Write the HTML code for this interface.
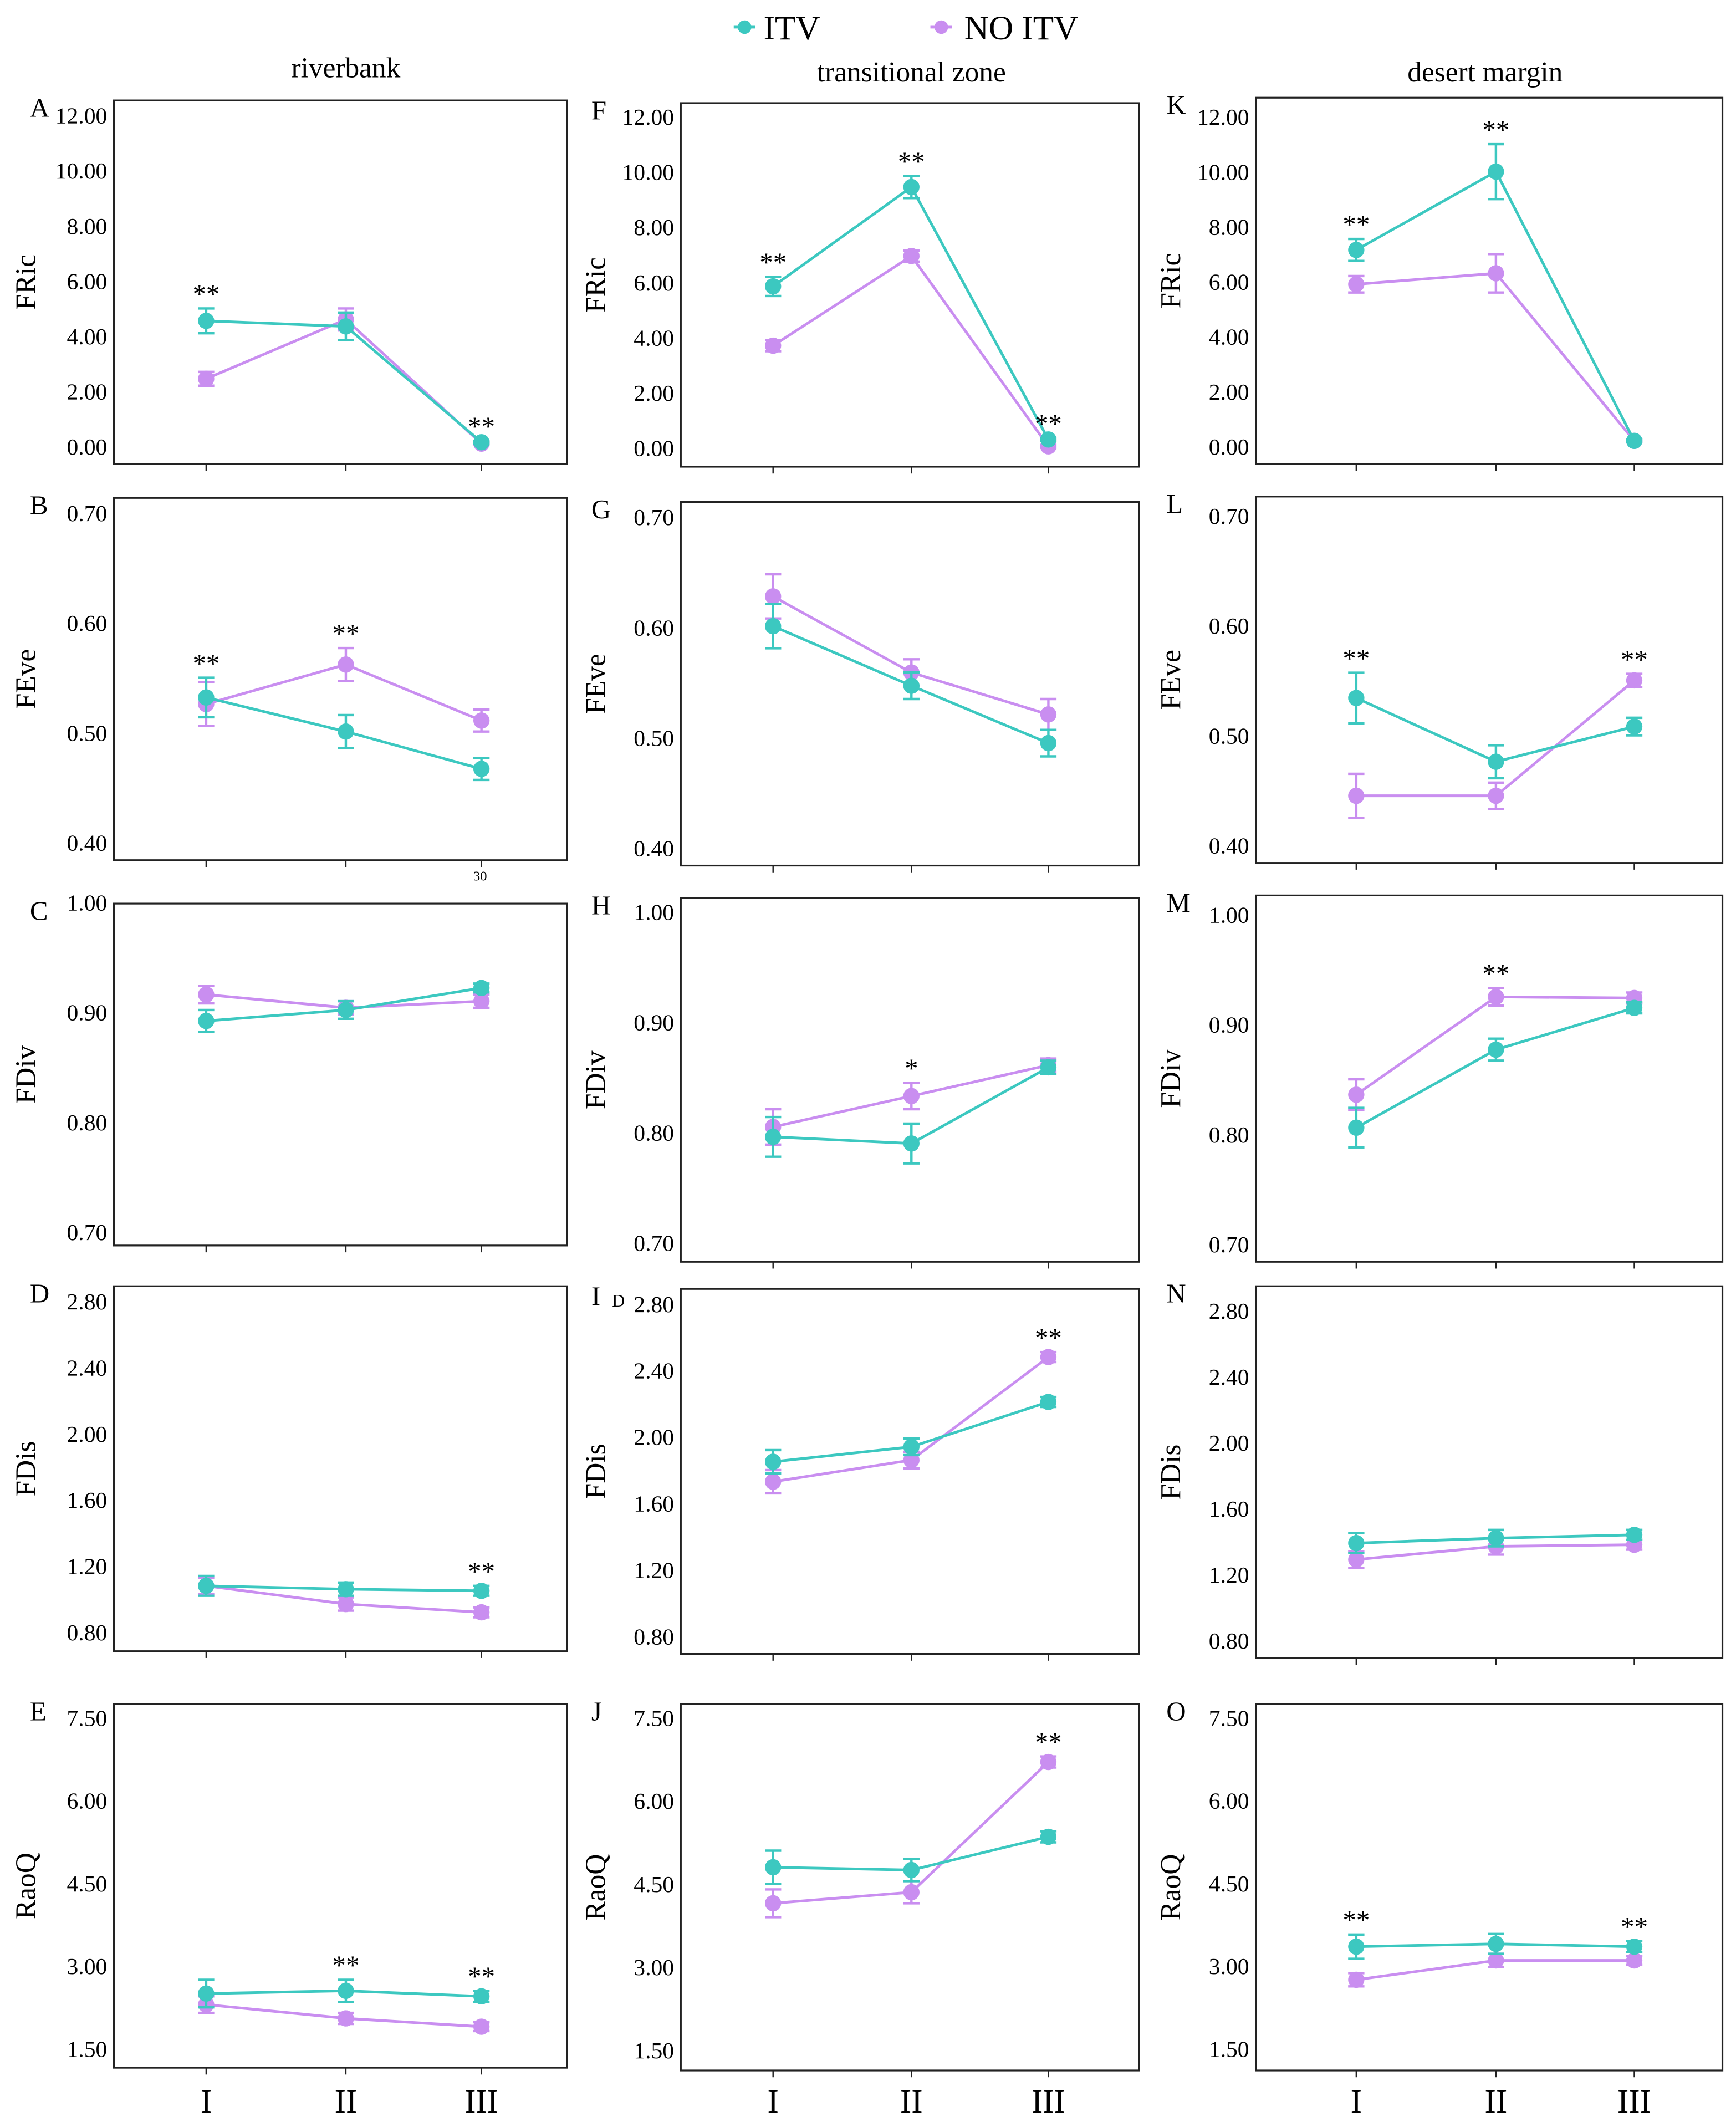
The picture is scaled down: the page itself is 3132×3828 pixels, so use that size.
<!DOCTYPE html>
<html><head><meta charset="utf-8"><style>
html,body{margin:0;padding:0;background:#fff}
svg{display:block;font-family:"Liberation Serif",serif}
</style></head><body>
<svg id="chart" width="3132" height="3828" viewBox="0 0 1280 1564" preserveAspectRatio="none" xmlns="http://www.w3.org/2000/svg">
<rect width="1280" height="1564" fill="#fff"/>
<g>
 <g><line x1="541" y1="20" x2="557" y2="20" stroke="#3cc8c0" stroke-width="2"/><circle cx="549" cy="20" r="5" fill="#3cc8c0"/><text x="563" y="29" font-size="25">ITV</text></g>
 <g><line x1="686" y1="20" x2="702" y2="20" stroke="#c98ef0" stroke-width="2"/><circle cx="694" cy="20" r="5" fill="#c98ef0"/><text x="711" y="29" font-size="25">NO ITV</text></g>
</g>
<text x="255" y="57" font-size="21" text-anchor="middle">riverbank</text>
<text x="672" y="60" font-size="21" text-anchor="middle">transitional zone</text>
<text x="1095" y="60" font-size="21" text-anchor="middle">desert margin</text>
<text x="354" y="649" font-size="10" text-anchor="middle">30</text>
<text x="456" y="963" font-size="13" text-anchor="middle">D</text>
<g id="panels"></g>
</svg>
<script>
const categories = ["I","II","III"];
const panelIds = ["A","B","C","D","E","F","G","H","I","J","K","L","M","N","O"];
const metrics = ["FRic","FEve","FDiv","FDis","RaoQ"];
const tickLabels = [
 ["0.00","2.00","4.00","6.00","8.00","10.00","12.00"],
 ["0.40","0.50","0.60","0.70"],
 ["0.70","0.80","0.90","1.00"],
 ["0.80","1.20","1.60","2.00","2.40","2.80"],
 ["1.50","3.00","4.50","6.00","7.50"]
];
const itvValues = [
 [4.55,4.35,0.15],[0.532,0.501,0.467],[0.892,0.902,0.922],[1.08,1.06,1.05],[2.5,2.55,2.45],
 [5.85,9.45,0.3],[0.601,0.547,0.495],[0.796,0.790,0.859],[1.85,1.94,2.21],[4.8,4.75,5.35],
 [7.15,10.0,0.2],[0.534,0.476,0.508],[0.806,0.877,0.915],[1.39,1.42,1.44],[3.35,3.4,3.35]
];
const itvErrors = [
 [0.45,0.5,0.05],[0.018,0.015,0.01],[0.01,0.008,0.004],[0.06,0.04,0.03],[0.25,0.2,0.1],
 [0.35,0.4,0.05],[0.02,0.012,0.012],[0.018,0.018,0.006],[0.07,0.05,0.03],[0.3,0.2,0.1],
 [0.4,1.0,0.05],[0.023,0.015,0.008],[0.018,0.01,0.005],[0.06,0.05,0.03],[0.22,0.18,0.1]
];
const noItvValues = [
 [2.45,4.6,0.1],[0.526,0.562,0.511],[0.916,0.904,0.910],[1.08,0.97,0.92],[2.3,2.05,1.9],
 [3.7,6.95,0.05],[0.628,0.559,0.521],[0.805,0.833,0.861],[1.73,1.86,2.48],[4.15,4.35,6.7],
 [5.9,6.3,0.2],[0.445,0.445,0.550],[0.836,0.925,0.924],[1.29,1.37,1.38],[2.75,3.1,3.1]
];
const noItvErrors = [
 [0.25,0.4,0.05],[0.02,0.015,0.01],[0.008,0.006,0.006],[0.05,0.04,0.03],[0.15,0.1,0.08],
 [0.2,0.2,0.05],[0.02,0.012,0.014],[0.016,0.012,0.006],[0.07,0.05,0.03],[0.25,0.2,0.1],
 [0.3,0.7,0.05],[0.02,0.012,0.006],[0.014,0.008,0.005],[0.05,0.05,0.03],[0.12,0.12,0.08]
];
const significance = [
 ["**","","**"],["**","**",""],["","",""],["","","**"],["","**","**"],
 ["**","**","**"],["","",""],["","*",""],["","","**"],["","","**"],
 ["**","**",""],["**","","**"],["","**",""],["","",""],["**","","**"]
];
// layout (not data)
const colBox = [[84,418],[502,840],[926,1270]];
const colX = [[152,255,355],[570,672,773],[1000,1103,1205]];
const rowBox = [[[74,342],[367,634],[666,918],[948,1217],[1256,1524]],
 [[76,344],[370,638],[662,930],[950,1219],[1256,1526]],
 [[72,342],[366,636],[660,930],[948,1222],[1256,1526]]];
const tickPix = [[[329,85],[621,378],[908,665],[1203,959],[1510,1266]],
 [[330,86],[625,381],[916,672],[1206,961],[1511,1266]],
 [[329,86],[623,380],[917,674],[1209,966],[1510,1266]]];
const NS="http://www.w3.org/2000/svg";
const root=document.getElementById("panels");
function mk(tag,attrs,parent){const e=document.createElementNS(NS,tag);for(const k in attrs)e.setAttribute(k,attrs[k]);parent.appendChild(e);return e;}
const ITV="#3cc8c0", NO="#c98ef0";
for(let c=0;c<3;c++){for(let r=0;r<5;r++){
 const idx=c*5+r;
 const g=mk("g",{},root);
 
 
 const [x0,x1]=colBox[c],[y0,y1]=rowBox[c][r];
 const labs=tickLabels[r];
 const vmin=parseFloat(labs[0]),vmax=parseFloat(labs[labs.length-1]);
 const [p0,p1]=tickPix[c][r];
 const yS=v=>p0+(v-vmin)/(vmax-vmin)*(p1-p0);
 const xS=i=>colX[c][i];
 const box=mk("rect",{x:x0,y:y0,width:x1-x0,height:y1-y0,fill:"none",stroke:"#222","stroke-width":1.3},g);
 
 
 const pl=mk("text",{x:x0-(c==0?62:66),y:y0+12,"font-size":20},g);
 pl.textContent=panelIds[idx];
 
 
 labs.forEach(l=>{
  const t=mk("text",{x:x0-5,y:yS(parseFloat(l))+6,"font-size":17,"text-anchor":"end"},g);
  t.textContent=l;
  
  
 });
 const yt=mk("text",{x:0,y:0,"font-size":21,"text-anchor":"middle",transform:`translate(${x0-(c==0?58:56)},${(y0+y1)/2}) rotate(-90)`},g);
 yt.textContent=metrics[r];
 
 
 categories.forEach((cat,i)=>{
  mk("line",{x1:xS(i),x2:xS(i),y1:y1,y2:y1+5,stroke:"#222","stroke-width":1},g);
  if(r==4){const t=mk("text",{x:xS(i),y:1557,"font-size":25,"text-anchor":"middle"},g);t.textContent=cat;
   
   }
 });
 [[noItvValues,noItvErrors,NO,"no-itv"],[itvValues,itvErrors,ITV,"itv"]].forEach(([vals,errs,col,nm])=>{
  const v=vals[idx],e=errs[idx];
  const ln=mk("polyline",{points:v.map((d,i)=>xS(i)+","+yS(d)).join(" "),fill:"none",stroke:col,"stroke-width":2},g);
  
  
  v.forEach((d,i)=>{
   const a=yS(d-e[i]),b=yS(d+e[i]),x=xS(i);
   mk("line",{x1:x,x2:x,y1:a,y2:b,stroke:col,"stroke-width":1.8},g);
   mk("line",{x1:x-6,x2:x+6,y1:a,y2:a,stroke:col,"stroke-width":1.8},g);
   mk("line",{x1:x-6,x2:x+6,y1:b,y2:b,stroke:col,"stroke-width":1.8},g);
   const pt=mk("circle",{cx:x,cy:yS(d),r:6,fill:col},g);
   
   
  });
 });
 significance[idx].forEach((s,i)=>{
  if(!s)return;
  const top=Math.max(itvValues[idx][i]+itvErrors[idx][i],noItvValues[idx][i]+noItvErrors[idx][i]);
  const t=mk("text",{x:xS(i),y:yS(top)-4,"font-size":20,"text-anchor":"middle"},g);
  t.textContent=s;
  
  
 });
}}
</script>
</body></html>
